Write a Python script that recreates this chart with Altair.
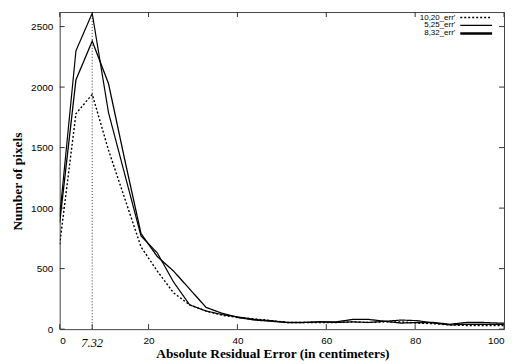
import altair as alt
import pandas as pd

# ---- data ----
x_vals = [0, 3.66, 7.32, 10.98, 14.64, 18.3, 21.96, 25.62, 29.28, 32.94, 36.6,
          40.26, 43.92, 47.58, 51.24, 54.9, 58.56, 62.22, 65.88, 69.54, 73.2,
          76.86, 80.52, 84.18, 87.84, 91.5, 95.16, 98.82, 102.48]

err_10_20 = [700, 1780, 1940, 1480, 1080, 680, 480, 300, 200, 150, 115,
             95, 85, 70, 55, 55, 55, 55, 60, 55, 60,
             60, 50, 45, 35, 30, 30, 30, 30]
err_5_25 = [880, 2060, 2380, 2030, 1400, 790, 600, 480, 330, 180, 130,
            95, 75, 65, 55, 55, 60, 60, 80, 80, 65,
            50, 55, 55, 40, 55, 55, 50, 50]
err_8_32 = [930, 2300, 2610, 1790, 1280, 770, 630, 390, 200, 150, 120,
            100, 80, 70, 55, 55, 60, 55, 60, 55, 65,
            75, 70, 50, 35, 40, 40, 40, 40]

series_names = ["10,20_err'", "5,25_err'", "8,32_err'"]
series_values = [err_10_20, err_5_25, err_8_32]

x_ticks = [0, 20, 40, 60, 80, 100]
y_ticks = [0, 500, 1000, 1500, 2000, 2500]
marker_x = 7.32

# ---- build tables ----
rows = []
for name, vals in zip(series_names, series_values):
    for xv, yv in zip(x_vals, vals):
        rows.append({"x": xv, "y": yv, "series": name})
df = pd.DataFrame(rows)

W, H = 447, 319
xscale = alt.Scale(domain=[0, 100], nice=False, zero=False)
yscale = alt.Scale(domain=[0, 2620], nice=False)

dash_range = [[2, 2], [1, 0], [1, 0]]
width_range = [1.4, 1.2, 2.6]

lines = alt.Chart(df).mark_line(clip=True, color="black").encode(
    x=alt.X("x:Q", scale=xscale,
            axis=alt.Axis(values=x_ticks, format="d", ticks=False, domain=False, grid=False,
                          labelFont="Liberation Sans", labelFontSize=10,
                          labelColor="black", labelPadding=6,
                          title="Absolute Residual Error (in centimeters)",
                          titleFont="Liberation Serif", titleFontSize=13.5,
                          titleFontWeight="bold", titleColor="black",
                          titleX=214, titleY=29, titleBaseline="alphabetic")),
    y=alt.Y("y:Q", scale=yscale,
            axis=alt.Axis(values=y_ticks, format="d", ticks=False, domain=False, grid=False,
                          labelFont="Liberation Sans", labelFontSize=10,
                          labelColor="black", labelPadding=7,
                          title="Number of pixels",
                          titleFont="Liberation Serif", titleFontSize=13.5,
                          titleFontWeight="bold", titleColor="black",
                          titleX=-42, titleY=170, titleAngle=-90,
                          titleBaseline="middle")),
    strokeDash=alt.StrokeDash("series:N", scale=alt.Scale(domain=series_names, range=dash_range), legend=None),
    strokeWidth=alt.StrokeWidth("series:N", scale=alt.Scale(domain=series_names, range=width_range), legend=None),
    detail="series:N",
)

marker_df = pd.DataFrame({"x": [marker_x], "label": [f"{marker_x:.2f}"]})
marker_line = alt.Chart(marker_df).mark_rule(color="black", strokeDash=[1, 2], strokeWidth=0.8).encode(
    x=alt.X("x:Q", scale=xscale), y=alt.value(0), y2=alt.value(H))
marker_text = alt.Chart(marker_df).mark_text(
    font="Liberation Serif", fontStyle="italic", fontSize=12.5, baseline="alphabetic", color="black"
).encode(x=alt.X("x:Q", scale=xscale), y=alt.value(H + 18), text="label:N")

xt_df = pd.DataFrame({"x": x_ticks + [marker_x]})
yt_df = pd.DataFrame({"y": y_ticks})
tick_style = dict(color="#333", strokeWidth=1)
xt_bottom = alt.Chart(xt_df).mark_rule(**tick_style).encode(
    x=alt.X("x:Q", scale=xscale), y=alt.value(H), y2=alt.value(H - 5))
xt_top = alt.Chart(pd.DataFrame({"x": x_ticks})).mark_rule(**tick_style).encode(
    x=alt.X("x:Q", scale=xscale), y=alt.value(0), y2=alt.value(5))
yt_left = alt.Chart(yt_df).mark_rule(**tick_style).encode(
    y=alt.Y("y:Q", scale=yscale), x=alt.value(0), x2=alt.value(5))
yt_right = alt.Chart(yt_df).mark_rule(**tick_style).encode(
    y=alt.Y("y:Q", scale=yscale), x=alt.value(W), x2=alt.value(W - 5))

legend_layers = []
for i, name in enumerate(series_names):
    yy = 5.5 + 8 * i
    ldf = pd.DataFrame({"name": [name]})
    legend_layers.append(
        alt.Chart(ldf).mark_text(font="Liberation Sans", fontSize=8, align="right",
                                 baseline="middle", color="black").encode(
            x=alt.value(398), y=alt.value(yy), text="name:N"))
    legend_layers.append(
        alt.Chart(ldf).mark_rule(color="black", strokeDash=dash_range[i],
                                 strokeWidth=width_range[i]).encode(
            x=alt.value(403), x2=alt.value(435), y=alt.value(yy)))

chart = alt.layer(
    marker_line, lines, marker_text, xt_bottom, xt_top, yt_left, yt_right, *legend_layers
).properties(
    width=W, height=H,
    autosize=alt.AutoSizeParams(type="none"),
    padding={"left": 52, "top": 3, "right": 2, "bottom": 34},
    background="white",
).configure_view(stroke="#444", strokeWidth=1)

chart.save("out.html", embed_options={"renderer": "svg", "actions": False})
